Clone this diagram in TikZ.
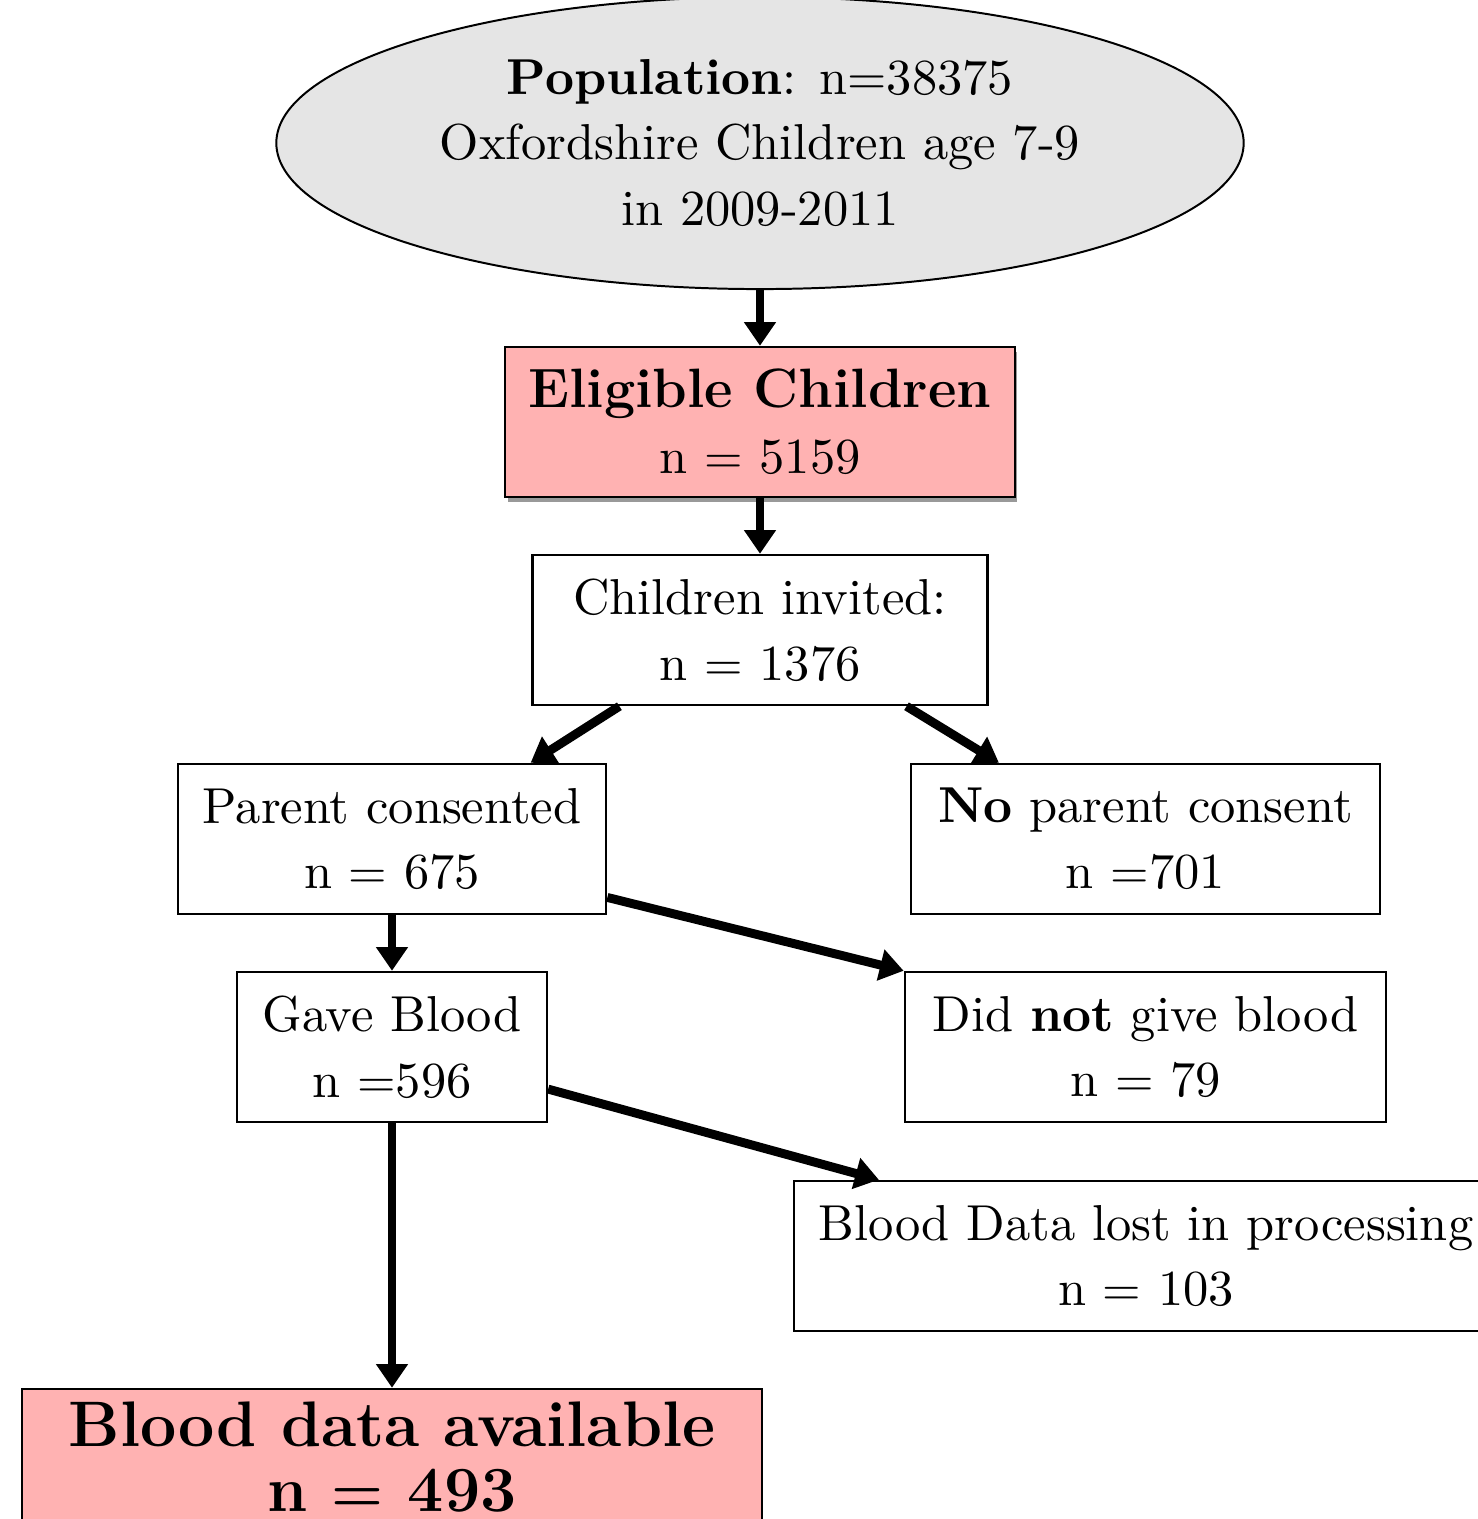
\documentclass[tikz,border=0pt]{standalone}
\usepackage{xcolor}
\usepackage{amsmath}
\usepackage{tikz}
\usetikzlibrary{shapes.geometric,arrows.meta,shadows}

\begin{document}
\begin{tikzpicture}[x=0.202pt, y=-0.202pt,
    box/.style={draw, line width=0.5pt, align=center, inner sep=0pt, minimum height=30.3pt, font=\fontsize{10.2}{13.3}\selectfont},
    keybox/.style={box, fill=red!30},
    flow/.style={-{Triangle[width=6.2pt,length=4.8pt]}, line width=1.8pt}]
    \path[use as bounding box, clip] (0,0) rectangle (1478,1519);

    \node[ellipse, draw, line width=0.4pt, fill=black!10, inner sep=0pt, minimum width=195.4pt, minimum height=59pt, align=center, font=\fontsize{10.2}{13.3}\selectfont] (pop) at (760,143) {\textbf{Population}: n=38375\\Oxfordshire Children age 7-9\\in 2009-2011};

    \node[keybox, minimum width=103pt, drop shadow={shadow xshift=0.5pt, shadow yshift=-1pt, opacity=0.8}] (elig) at (760,422) {{\fontsize{11.2}{13.3}\selectfont\bfseries Eligible Children}\\n $=$ 5159};
    \node[box, minimum width=91.9pt] (invited) at (760,630) {Children invited:\\n $=$ 1376};

    \node[box, minimum width=86.5pt] (consent) at (392,839) {Parent consented\\n $=$ 675};
    \node[box, minimum width=94.7pt] (noconsent) at (1145.5,839) {\textbf{No} parent consent\\n $=$701};

    \node[box, minimum width=62.6pt] (gave) at (392,1047) {Gave Blood\\n $=$596};
    \node[box, minimum width=97.2pt] (notgave) at (1145.5,1047) {Did \textbf{not} give blood\\n $=$ 79};

    \node[box, minimum width=142.2pt] (lost) at (1146,1256) {Blood Data lost in processing\\n $=$ 103};
    \node[keybox, minimum width=149.5pt, font=\fontsize{13}{13.2}\selectfont\bfseries\boldmath] (avail) at (392,1464) {Blood data available\\n $=$ 493\rule[-3pt]{0pt}{0pt}};

    \draw[flow] (pop) -- (elig);
    \draw[flow] (elig) -- (invited);
    \draw[flow] ([xshift=17.8pt]invited.south west) -- ([xshift=-15.5pt]consent.north east);
    \draw[flow] ([xshift=-16.6pt]invited.south east) -- ([xshift=18pt]noconsent.north west);
    \draw[flow] (consent) -- (gave);
    \draw[flow] ([yshift=3.6pt]consent.south east) -- (notgave.north west);
    \draw[flow] ([yshift=6.9pt]gave.south east) -- ([xshift=17.4pt]lost.north west);
    \draw[flow] (gave) -- (avail);
\end{tikzpicture}
\end{document}
